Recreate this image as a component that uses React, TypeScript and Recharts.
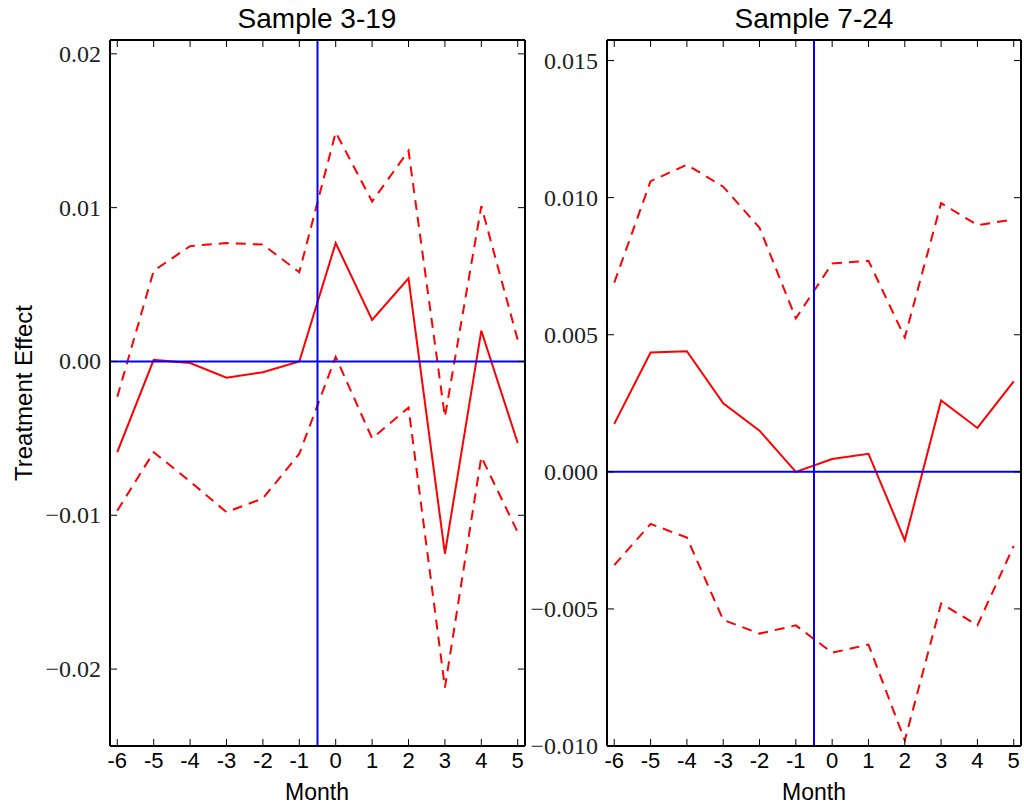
import React from 'react';
import { LineChart, Line, XAxis, YAxis, ReferenceLine } from 'recharts';

const months = [-6, -5, -4, -3, -2, -1, 0, 1, 2, 3, 4, 5];
const monthLabels = ['-6', '-5', '-4', '-3', '-2', '-1', '0', '1', '2', '3', '4', '5'];

// Sample 3-19
const a_est = [-0.0059, 0.0001, -0.0001, -0.00105, -0.0007, 0.0, 0.0077, 0.0027, 0.0054, -0.0125, 0.002, -0.0053];
const a_upper = [-0.0023, 0.0059, 0.0075, 0.0077, 0.0076, 0.0058, 0.0149, 0.0104, 0.0137, -0.0036, 0.0101, 0.0014];
const a_lower = [-0.0097, -0.0059, -0.0078, -0.0098, -0.0089, -0.006, 0.0003, -0.005, -0.003, -0.0212, -0.0062, -0.0111];
const a_yticks = [0.02, 0.01, 0.0, -0.01, -0.02];
const a_ylabels = ['0.02', '0.01', '0.00', '\u22120.01', '\u22120.02'];

// Sample 7-24
const b_est = [0.00175, 0.00435, 0.0044, 0.0025, 0.0015, 0.0, 0.00047, 0.00066, -0.0025, 0.0026, 0.0016, 0.0033];
const b_upper = [0.0069, 0.0106, 0.0112, 0.0104, 0.0089, 0.0056, 0.0076, 0.0077, 0.0049, 0.0098, 0.009, 0.0092];
const b_lower = [-0.0034, -0.0019, -0.0024, -0.0054, -0.0059, -0.0056, -0.0066, -0.0063, -0.0098, -0.0048, -0.0056, -0.0027];
const b_yticks = [0.015, 0.01, 0.005, 0.0, -0.005, -0.01];
const b_ylabels = ['0.015', '0.010', '0.005', '0.000', '\u22120.005', '\u22120.010'];

const titles = ['Sample 3-19', 'Sample 7-24'];
const xLabel = 'Month';
const yLabel = 'Treatment Effect';
const eventLine = -0.5;

const RED = '#ff0000';
const BLUE = '#0000ff';
const TICK = 7;

const buildData = (est: number[], up: number[], lo: number[]) =>
  months.map((m, i) => ({ m, est: est[i], up: up[i], lo: lo[i] }));

const BottomTick = (props: any) => {
  const { x, y, payload } = props;
  const idx = months.indexOf(payload.value);
  return (
    <g>
      <line x1={x} x2={x} y1={y} y2={y - TICK} stroke="#000" strokeWidth={1} />
      <text x={x} y={y + 22} textAnchor="middle" fontFamily="Liberation Sans, Arial, sans-serif" fontSize={22} fill="#000">
        {idx >= 0 ? monthLabels[idx] : payload.value}
      </text>
    </g>
  );
};

const TopTick = (props: any) => {
  const { x, y } = props;
  return <line x1={x} x2={x} y1={y} y2={y + TICK} stroke="#000" strokeWidth={1} />;
};

const makeLeftTick = (ticks: number[], labels: string[]) => (props: any) => {
  const { x, y, payload } = props;
  const idx = ticks.findIndex((t) => Math.abs(t - payload.value) < 1e-9);
  return (
    <g>
      <line x1={x} x2={x + TICK} y1={y} y2={y} stroke="#000" strokeWidth={1} />
      <text x={x - 9} y={y + 8} textAnchor="end" fontFamily="Liberation Serif, Times New Roman, serif" fontSize={24} fill="#222">
        {idx >= 0 ? labels[idx] : ''}
      </text>
    </g>
  );
};

const RightTick = (props: any) => {
  const { x, y } = props;
  return <line x1={x} x2={x - TICK} y1={y} y2={y} stroke="#000" strokeWidth={1} />;
};

interface PanelProps {
  left: number;
  width: number;
  yAxisWidth: number;
  rightMargin: number;
  data: any[];
  domain: [number, number];
  yticks: number[];
  ylabels: string[];
}

const Panel = ({ left, width, yAxisWidth, rightMargin, data, domain, yticks, ylabels }: PanelProps) => {
  const axisLine = { stroke: '#000', strokeWidth: 2 };
  return (
    <div style={{ position: 'absolute', left, top: 0 }}>
      <LineChart width={width} height={809} data={data} margin={{ top: 39, right: rightMargin - 1, bottom: 33, left: 0 }}>
        <XAxis
          dataKey="m"
          type="number"
          domain={[-6.2, 5.2]}
          ticks={months}
          allowDataOverflow
          height={30}
          tickSize={0}
          tickMargin={0}
          tickLine={false}
          axisLine={axisLine}
          tick={BottomTick}
          interval={0}
        />
        <XAxis
          xAxisId="top"
          orientation="top"
          dataKey="m"
          type="number"
          domain={[-6.2, 5.2]}
          ticks={months}
          allowDataOverflow
          height={1}
          tickSize={0}
          tickMargin={0}
          tickLine={false}
          axisLine={axisLine}
          tick={TopTick}
          interval={0}
        />
        <YAxis
          type="number"
          domain={domain}
          ticks={yticks}
          allowDataOverflow
          width={yAxisWidth}
          tickSize={0}
          tickMargin={0}
          tickLine={false}
          axisLine={axisLine}
          tick={makeLeftTick(yticks, ylabels)}
          interval={0}
        />
        <YAxis
          yAxisId="right"
          orientation="right"
          type="number"
          domain={domain}
          ticks={yticks}
          allowDataOverflow
          width={1}
          tickSize={0}
          tickMargin={0}
          tickLine={false}
          axisLine={axisLine}
          tick={RightTick}
          interval={0}
        />
        <Line dataKey="up" stroke={RED} strokeWidth={2} strokeDasharray="10 7" dot={false} isAnimationActive={false} />
        <Line dataKey="est" stroke={RED} strokeWidth={2} dot={false} isAnimationActive={false} />
        <Line dataKey="lo" stroke={RED} strokeWidth={2} strokeDasharray="10 7" dot={false} isAnimationActive={false} />
        <ReferenceLine y={0} stroke={BLUE} strokeWidth={2} />
        <ReferenceLine x={eventLine} stroke={BLUE} strokeWidth={2} />
      </LineChart>
    </div>
  );
};

const textStyle: React.CSSProperties = {
  position: 'absolute',
  fontFamily: 'Liberation Sans, Arial, sans-serif',
  color: '#000',
  whiteSpace: 'nowrap',
  transform: 'translate(-50%, -50%)',
  lineHeight: 1,
};

export default function App() {
  return (
    <div style={{ position: 'absolute', left: 0, top: 0, width: 1024, height: 809, background: '#fff', overflow: 'hidden' }}>
      <Panel
        left={0}
        width={545}
        yAxisWidth={110}
        rightMargin={20}
        data={buildData(a_est, a_upper, a_lower)}
        domain={[-0.025, 0.0209]}
        yticks={a_yticks}
        ylabels={a_ylabels}
      />
      <Panel
        left={522}
        width={502}
        yAxisWidth={85}
        rightMargin={3}
        data={buildData(b_est, b_upper, b_lower)}
        domain={[-0.01, 0.01575]}
        yticks={b_yticks}
        ylabels={b_ylabels}
      />
      <div style={{ ...textStyle, left: 317, top: 19, fontSize: 28 }}>{titles[0]}</div>
      <div style={{ ...textStyle, left: 814, top: 19, fontSize: 28 }}>{titles[1]}</div>
      <div style={{ ...textStyle, left: 317, top: 792, fontSize: 23 }}>{xLabel}</div>
      <div style={{ ...textStyle, left: 814, top: 792, fontSize: 23 }}>{xLabel}</div>
      <div style={{ ...textStyle, left: 24, top: 393, fontSize: 24, transform: 'translate(-50%, -50%) rotate(-90deg)' }}>{yLabel}</div>
    </div>
  );
}
